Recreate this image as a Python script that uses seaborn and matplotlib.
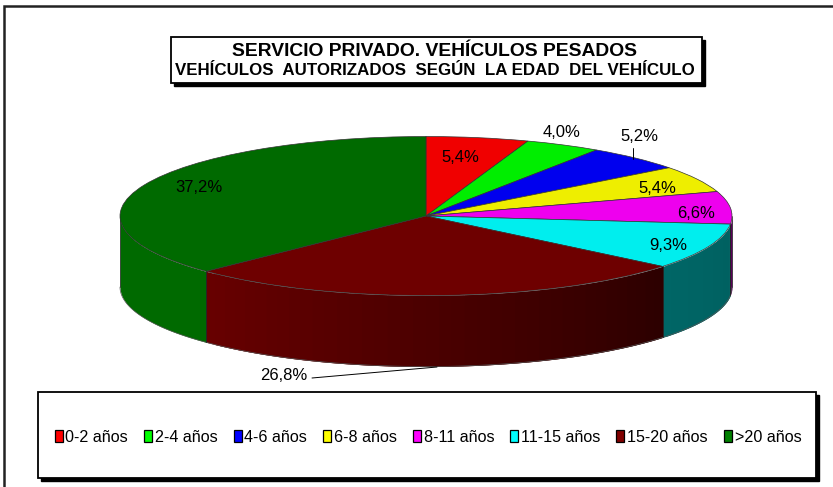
import numpy as np
import matplotlib
matplotlib.use("Agg")
import matplotlib.pyplot as plt
from matplotlib.patches import Rectangle, Patch
from matplotlib.colors import to_rgb
import seaborn as sns

categories = ["0-2 años", "2-4 años", "4-6 años", "6-8 años", "8-11 años", "11-15 años", "15-20 años", ">20 años"]
values = [5.4, 4.0, 5.2, 5.4, 6.6, 9.3, 26.8, 37.2]
top_colors = ["#f00000", "#00ee00", "#0000ee", "#eeee00", "#ee00ee", "#00eeee", "#6e0000", "#006a00"]
legend_colors = ["#ff0000", "#00ff00", "#0000ff", "#ffff00", "#ff00ff", "#00ffff", "#800000", "#008000"]
wall_left = ["#780000", "#007800", "#000078", "#787800", "#5a005a", "#006666", "#680000", "#006a00"]
wall_right = ["#780000", "#007800", "#000078", "#787800", "#5a005a", "#006060", "#2c0000", "#006a00"]
title_1 = "SERVICIO PRIVADO. VEHÍCULOS PESADOS"
title_2 = "VEHÍCULOS  AUTORIZADOS  SEGÚN  LA EDAD  DEL VEHÍCULO"

W, H = 833, 487
CX, CY, RX, RY, DEPTH = 426.0, 216.0, 306.0, 79.5, 71.0

sns.set_theme(style="white")
plt.rcParams["font.family"] = ["Liberation Sans", "DejaVu Sans"]

fig = plt.figure(figsize=(W / 100, H / 100), dpi=100, facecolor="white")
bg = fig.add_axes([0, 0, 1, 1], zorder=0)
bg.set_xlim(0, W)
bg.set_ylim(H, 0)
bg.axis("off")

# outer chart frame, title box and legend box (each with a hard shadow)
bg.add_patch(Rectangle((4, 6), W + 20, H + 20, fc="white", ec="#222222", lw=1.8))
for x0, y0, x1, y1 in [(171, 37, 702, 83), (38, 392, 816, 478)]:
    bg.add_patch(Rectangle((x0 + 3, y0 + 3), x1 - x0, y1 - y0, fc="black", ec="black", lw=1))
    bg.add_patch(Rectangle((x0, y0), x1 - x0, y1 - y0, fc="white", ec="black", lw=1.3))
bg.text(435, 51, title_1, ha="center", va="center", fontsize=13.9, fontweight="bold", color="black")
bg.text(435, 70.5, title_2, ha="center", va="center", fontsize=12.2, fontweight="bold", color="black")

ax = fig.add_axes([0, 0, 1, 1], zorder=1)
ax.patch.set_alpha(0)

# pie top (an ellipse: the axes units are not square)
wedges, _ = ax.pie(values, colors=top_colors, startangle=90, counterclock=False, radius=1,
                   wedgeprops=dict(edgecolor="#333333", linewidth=0.5))
ax.set_xlim((0 - CX) / RX, (W - CX) / RX)
ax.set_ylim((CY - H) / RY, CY / RY)
ax.set_aspect("auto")
ax.set_frame_on(False)
depth = DEPTH / RY

# side walls, only on the front half of the disc; segments overlap so no seams show
ends = 90 - np.cumsum(values) / np.sum(values) * 360
starts = np.r_[90, ends[:-1]]
for a0, a1, cl, cr in zip(starts, ends, wall_left, wall_right):
    lo, hi = max(a1, -180), min(a0, 0)
    if lo >= hi:
        lo, hi = max(a1 + 360, 180) - 360, min(a0 + 360, 360) - 360
        if lo >= hi:
            continue
    n = 40 if cl != cr else 1
    edges = np.linspace(lo, hi, n + 1)
    for k in range(n):
        t = (k + 0.5) / n
        col = (1 - t) * np.array(to_rgb(cl)) + t * np.array(to_rgb(cr))
        stop = edges[min(k + 2, n)]
        th = np.radians(np.linspace(edges[k], stop, 30))
        ax.fill_between(np.cos(th), np.sin(th), np.sin(th) - depth, color=col, lw=0, zorder=0.5)
    th = np.radians(np.linspace(lo, hi, 80))
    ax.plot(np.cos(th), np.sin(th) - depth, color="#555555", lw=0.5, zorder=0.6)
    for a in (lo, hi):
        r = np.radians(a)
        ax.plot([np.cos(r)] * 2, [np.sin(r), np.sin(r) - depth], color="#222222", lw=0.5, zorder=0.6)


def px(x, y):
    return (x - CX) / RX, (CY - y) / RY


label_xy = [(460, 158), (562, 133), (639, 137), (657, 189), (696, 214), (668, 246), (284, 376), (199, 188)]
for v, (x, y) in zip(values, label_xy):
    ax.text(*px(x, y), f"{v:.1f}%".replace(".", ","), ha="center", va="center", fontsize=12, color="black", zorder=5)
for a, b in [((633.5, 148), (633.5, 159)), ((312, 378), (437, 367))]:
    p, q = px(*a), px(*b)
    ax.plot([p[0], q[0]], [p[1], q[1]], color="black", lw=0.7, zorder=5)

handles = [Patch(facecolor=c, edgecolor="black", linewidth=0.9, label=n) for c, n in zip(legend_colors, categories)]
ax.legend(handles=handles, loc="center", bbox_to_anchor=(428 / W, 1 - 437.5 / H), bbox_transform=fig.transFigure,
          ncol=8, frameon=False, fontsize=11.6, handlelength=0.5, handleheight=0.75,
          handletextpad=0.18, columnspacing=0.98, labelcolor="black", borderpad=0, borderaxespad=0)

fig.savefig("out.png", dpi=100)
